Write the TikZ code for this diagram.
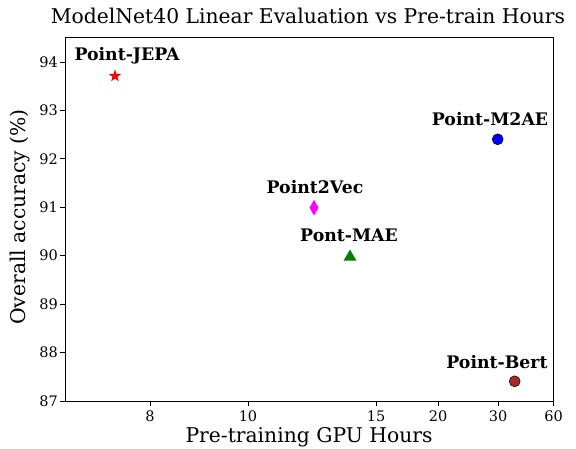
\documentclass[tikz,border=0pt]{standalone}
\usepackage{fontspec}
\setmainfont{DejaVu Serif}
\usetikzlibrary{shapes.geometric}
\definecolor{bertbrown}{HTML}{A52A2A}
\definecolor{maegreen}{HTML}{008000}
\definecolor{vecmagenta}{HTML}{FF00FF}
\tikzset{
  ticklbl/.style={font=\fontsize{14.5}{14.5}\selectfont, inner sep=1pt},
  axlbl/.style={font=\fontsize{20.3}{20.3}\selectfont, inner sep=0pt},
  ptlbl/.style={font=\bfseries\fontsize{17.3}{17.3}\selectfont, inner sep=0pt},
  mk/.style={inner sep=0pt, draw=black, line width=0.5pt},
}
\begin{document}
\begin{tikzpicture}[x=1pt,y=-1pt]
    \useasboundingbox (0,0) rectangle (576,449);

    %draw frame
    \draw[line width=0.8pt] (65,37) rectangle (553.5,401);

    %draw y ticks
    \foreach \v in {87,...,94} {
      \pgfmathsetmacro\yy{401-(\v-87)*48.43}
      \draw[line width=0.8pt] (65,\yy) -- (60,\yy);
      \node[ticklbl, anchor=east] (y\v) at (59,\yy) {\v};
    }

    %draw x ticks
    \foreach \v/\xx in {8/150,10/248,15/376,20/438,30/498,60/553.5} {
      \draw[line width=0.8pt] (\xx,401) -- (\xx,406);
      \node[ticklbl, anchor=north] (x\v) at (\xx,409.5) {\v};
    }

    %draw axis labels and title
    \node[axlbl] (title) at (308,16) {ModelNet40 Linear Evaluation vs Pre-train Hours};
    \node[axlbl] (xlabel) at (309,437) {Pre-training GPU Hours};
    \node[axlbl, rotate=90] (ylabel) at (20,217) {Overall accuracy (\%)};

    %draw markers
    \node[star, star points=5, star point ratio=2.5, fill=red, inner sep=0pt, minimum size=13pt] (jepa) at (115,76) {};
    \node[mk, circle, fill=blue, minimum size=11pt] (m2ae) at (497.7,139.3) {};
    \node[diamond, fill=vecmagenta, inner sep=0pt, minimum width=9pt, minimum height=16pt] (p2v) at (314,207.7) {};
    \node[regular polygon, regular polygon sides=3, fill=maegreen, inner sep=0pt, minimum size=15pt] (mae) at (350,257) {};
    \node[mk, circle, fill=bertbrown, minimum size=11pt] (bert) at (514.7,381.3) {};

    %draw point labels
    \node[ptlbl] (jepalbl) at (127,56) {Point-JEPA};
    \node[ptlbl] (m2aelbl) at (490,119) {Point-M2AE};
    \node[ptlbl] (p2vlbl) at (315,187) {Point2Vec};
    \node[ptlbl] (maelbl) at (349,235.5) {Pont-MAE};
    \node[ptlbl] (bertlbl) at (497,362) {Point-Bert};

\end{tikzpicture}
\end{document}
